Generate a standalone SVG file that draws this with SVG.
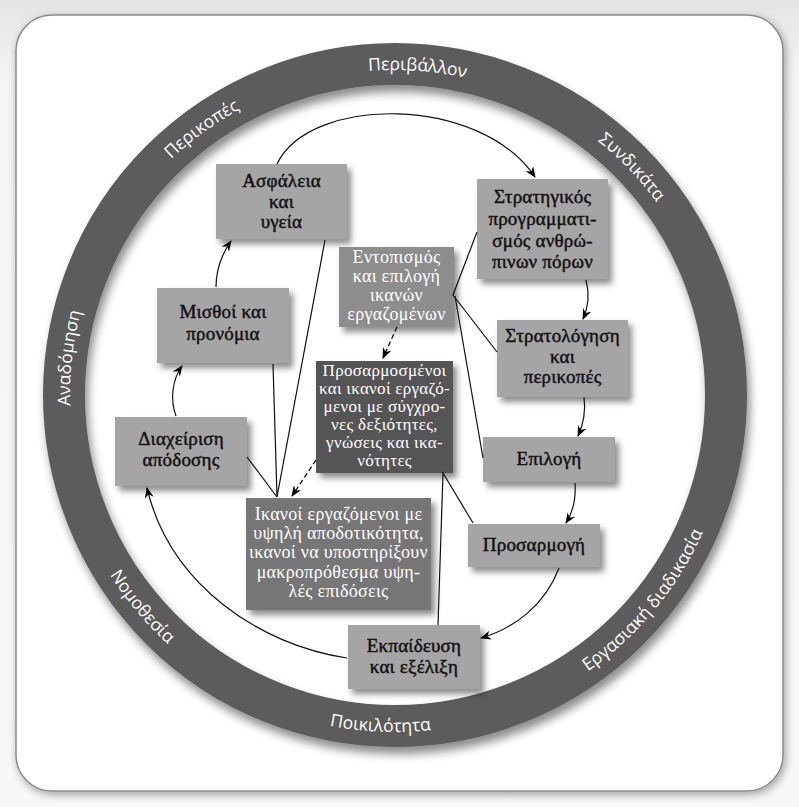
<svg xmlns="http://www.w3.org/2000/svg" width="799" height="807" viewBox="0 0 799 807">
<defs>
<filter id="sh" x="-20%" y="-20%" width="150%" height="150%"><feDropShadow dx="4" dy="5" stdDeviation="3" flood-color="#000" flood-opacity="0.45"/></filter>
<filter id="rsh" x="-10%" y="-10%" width="120%" height="120%"><feDropShadow dx="3" dy="7" stdDeviation="5" flood-color="#000" flood-opacity="0.45"/></filter>
<filter id="fsh" x="-5%" y="-5%" width="110%" height="110%"><feDropShadow dx="2" dy="3" stdDeviation="4" flood-color="#000" flood-opacity="0.35"/></filter>
<marker id="ah" markerWidth="11" markerHeight="9" refX="10" refY="4.5" orient="auto" markerUnits="userSpaceOnUse"><path d="M0,0 L11,4.5 L0,9 L3.5,4.5 z" fill="#000"/></marker>
<path id="cw" d="M395,720 A325,325 0 1 1 395,70 A325,325 0 1 1 395,720"/>
<path id="ccw" d="M395,58 A337,337 0 1 0 395,732 A337,337 0 1 0 395,58"/>
<linearGradient id="bg" x1="0" y1="0" x2="0" y2="1"><stop offset="0" stop-color="#e4e4e4"/><stop offset="0.1" stop-color="#f4f4f4"/><stop offset="1" stop-color="#f8f8f8"/></linearGradient>
</defs>
<style>
.box{filter:url(#sh)}
.lt{fill:#a5a5a5}
.md{fill:#8d8d8d}
.mk{fill:#767676}
.dk{fill:#545454}
.bt{font-family:"Liberation Serif",serif;font-size:19px;fill:#111;stroke:#111;stroke-width:0.45px;text-anchor:middle;letter-spacing:0.2px}
.wt{font-family:"Liberation Serif",serif;font-size:18px;fill:#fff;text-anchor:middle;letter-spacing:0.3px}
.ws{font-size:17px}
.rt{font-family:"Open Sans","Noto Sans",sans-serif;font-size:17.5px;fill:#fff;text-anchor:middle}
.ln{fill:none;stroke:#111;stroke-width:1.2}
.ar{fill:none;stroke:#111;stroke-width:1.2;marker-end:url(#ah)}
.da{fill:none;stroke:#111;stroke-width:1.3;stroke-dasharray:5 3;marker-end:url(#ah)}
</style>
<rect x="0" y="0" width="799" height="807" fill="url(#bg)"/>
<rect x="16" y="15" width="767" height="776" rx="36" fill="#fff" stroke="#8a8a8a" stroke-width="1.5" filter="url(#fsh)"/>
<g id="ring">
<circle cx="395" cy="395" r="331" fill="none" stroke="#5c5c5c" stroke-width="42" filter="url(#rsh)"/>
<text class="rt"><textPath href="#cw" startOffset="51.1%">Περιβάλλον</textPath></text>
<text class="rt"><textPath href="#cw" startOffset="40%">Περικοπές</textPath></text>
<text class="rt"><textPath href="#cw" startOffset="62.8%">Συνδικάτα</textPath></text>
<text class="rt"><textPath href="#cw" startOffset="26.8%">Αναδόμηση</textPath></text>
<text class="rt"><textPath href="#ccw" startOffset="36.1%">Νομοθεσία</textPath></text>
<text class="rt"><textPath href="#ccw" startOffset="49.3%">Ποικιλότητα</textPath></text>
<text class="rt"><textPath href="#ccw" startOffset="64%">Εργασιακή διαδικασία</textPath></text>
</g>
<g id="n-asfaleia"><rect class="box lt" x="216" y="164" width="131" height="75"/>
<text class="bt" x="281.5" y="187">Ασφάλεια</text><text class="bt" x="281.5" y="208">και</text><text class="bt" x="281.5" y="228">υγεία</text></g>
<g id="n-misthoi"><rect class="box lt" x="157" y="288" width="132" height="75"/>
<text class="bt" x="223" y="318">Μισθοί και</text><text class="bt" x="223" y="340">προνόμια</text></g>
<g id="n-diaxeirisi"><rect class="box lt" x="115" y="417" width="132" height="69"/>
<text class="bt" x="181" y="445">Διαχείριση</text><text class="bt" x="181" y="466">απόδοσης</text></g>
<g id="n-stratigikos"><rect class="box lt" x="477" y="179" width="131" height="100"/>
<text class="bt" x="542.5" y="203">Στρατηγικός</text><text class="bt" x="542.5" y="225">προγραμματι-</text><text class="bt" x="542.5" y="247">σμός ανθρώ-</text><text class="bt" x="542.5" y="268">πινων πόρων</text></g>
<g id="n-stratologisi"><rect class="box lt" x="497" y="320" width="131" height="77"/>
<text class="bt" x="562.5" y="342">Στρατολόγηση</text><text class="bt" x="562.5" y="363">και</text><text class="bt" x="562.5" y="383">περικοπές</text></g>
<g id="n-epilogi"><rect class="box lt" x="483" y="437" width="132" height="45"/>
<text class="bt" x="549" y="465">Επιλογή</text></g>
<g id="n-prosarmogi"><rect class="box lt" x="468" y="524" width="132" height="43"/>
<text class="bt" x="534" y="551">Προσαρμογή</text></g>
<g id="n-ekpaideusi"><rect class="box lt" x="348" y="625" width="132" height="64"/>
<text class="bt" x="414" y="652">Εκπαίδευση</text><text class="bt" x="414" y="673">και εξέλιξη</text></g>
<g id="n-entopismos"><rect class="box md" x="339" y="247" width="115" height="80"/>
<text class="wt" x="396.5" y="263">Εντοπισμός</text><text class="wt" x="396.5" y="282">και επιλογή</text><text class="wt" x="396.5" y="301">ικανών</text><text class="wt" x="396.5" y="320">εργαζομένων</text></g>
<g id="n-prosarmosmenoi"><rect class="box dk" x="316" y="361" width="137" height="112"/>
<text class="wt ws" x="384.5" y="376">Προσαρμοσμένοι</text><text class="wt ws" x="384.5" y="394">και ικανοί εργαζό-</text><text class="wt ws" x="384.5" y="412">μενοι με σύγχρο-</text><text class="wt ws" x="384.5" y="430">νες δεξιότητες,</text><text class="wt ws" x="384.5" y="448">γνώσεις και ικα-</text><text class="wt ws" x="384.5" y="466">νότητες</text></g>
<g id="n-ikanoi"><rect class="box mk" x="246" y="498" width="185" height="112"/>
<text class="wt" x="338.5" y="520">Ικανοί εργαζόμενοι με</text><text class="wt" x="338.5" y="539">υψηλή αποδοτικότητα,</text><text class="wt" x="338.5" y="558">ικανοί να υποστηρίξουν</text><text class="wt" x="338.5" y="578">μακροπρόθεσμα υψη-</text><text class="wt" x="338.5" y="597">λές επιδόσεις</text></g>
<g id="connectors">
<path class="ar" d="M277,164 C310,95 480,95 535,177"/>
<path class="ar" d="M586,280 C590,295 588,308 583,319"/>
<path class="ar" d="M584,397 C586,412 583,425 578,436"/>
<path class="ar" d="M575,483 C576,498 573,512 566,523"/>
<path class="ar" d="M559,568 C545,605 515,628 481,638"/>
<path class="ar" d="M347,658 C260,645 170,585 147,488"/>
<path class="ar" d="M176,416 C170,400 172,380 182,366"/>
<path class="ar" d="M216,287 C216,268 222,254 231,241"/>
<path class="ln" d="M477,232 L453,295 L497,352"/>
<path class="ln" d="M455,296 L483,458"/>
<path class="ln" d="M325,240 L277,497 L273,364"/>
<path class="ln" d="M247,457 L277,497"/>
<path class="ln" d="M438,625 L443,473 L473,523"/>
<path class="da" d="M397,327 L383,358"/>
<path class="da" d="M316,460 L292,496"/>
</g>
</svg>
